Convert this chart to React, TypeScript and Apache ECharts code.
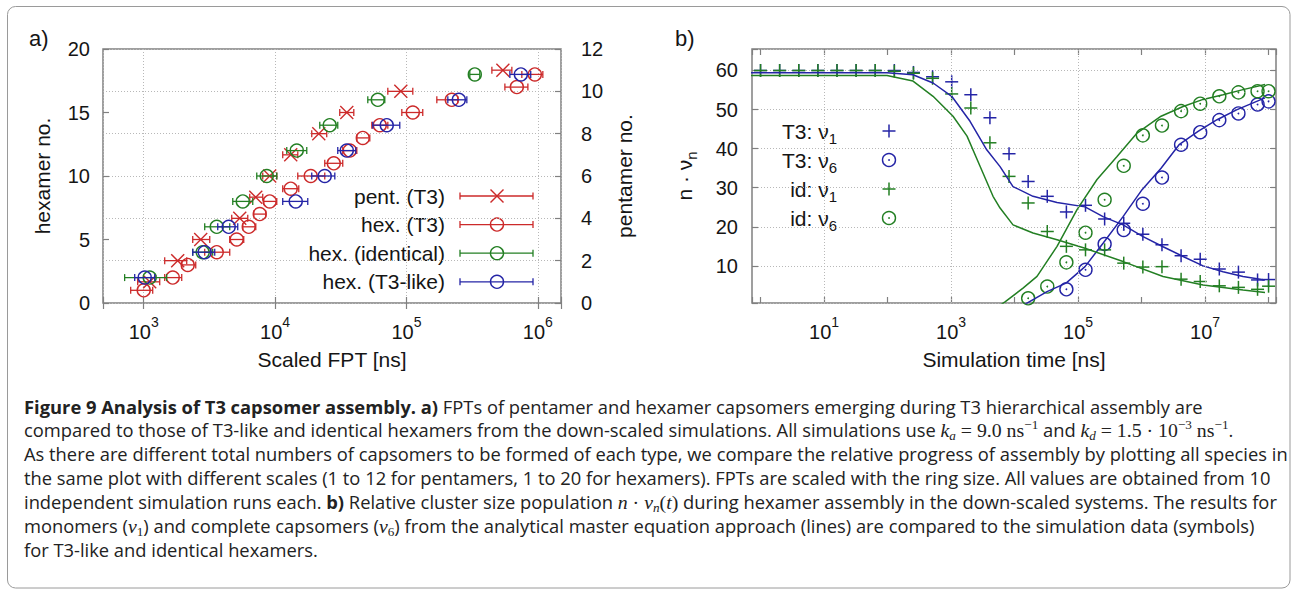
import React, { useEffect, useRef } from 'react';
import * as echarts from 'echarts';

const W = 1292;
const H = 589;

const RED = '#cc2a2a';
const GREEN = '#237f23';
const BLUE = '#2424a6';
const FRAME = '#808080';
const GRIDC = '#b8b8b8';
const INK = '#151515';
const FONT = '"Liberation Sans", Arial, Helvetica, sans-serif';
const CAPFONT = '"Open Sans", Lato, sans-serif';
const MATHFONT = '"Liberation Serif", "DejaVu Serif", serif';

// ---------- Panel a) data : FPT [ns] (centre, low, high) ----------
const pentNo = [1, 2, 3, 4, 5, 6, 7, 8, 9, 10, 11];
const pentFpt = [1111, 1815, 2716, 5383, 7129, 9102, 13152, 21505, 35130, 90570, 541500];
const pentLo = [900, 1445, 2361, 4677, 6412, 8054, 11430, 19010, 31050, 72100, 446700];
const pentHi = [1324, 2125, 3181, 6194, 8054, 10297, 14880, 24720, 39720, 111700, 633900];

const hexT3No = [1, 2, 3, 4, 5, 6, 7, 8, 9, 10, 11, 12, 13, 14, 15, 16, 17, 18];
const hexT3Fpt = [1000, 1663, 2163, 3597, 5105, 6302, 7640, 9102, 13152, 18690, 27970, 37040, 46500, 62660, 111750, 221300, 691800, 948500];
const hexT3Lo = [796, 1445, 1947, 2913, 4516, 5675, 6880, 8199, 11430, 14880, 23880, 32730, 41880, 54450, 92150, 170200, 561000, 755000];
const hexT3Hi = [1171, 1947, 2489, 4516, 5773, 7129, 8489, 10297, 15140, 23880, 32730, 41880, 52590, 72100, 133000, 246000, 839500, 1091000];

const hexIdNo = [2, 4, 6, 8, 10, 12, 14, 16, 18];
const hexIdFpt = [1111, 2812, 3597, 5675, 8644, 14620, 26060, 60500, 331100];
const hexIdLo = [716, 2361, 2913, 4762, 7253, 12270, 21880, 50770, 303400];
const hexIdHi = [1496, 3350, 4516, 6761, 10297, 17420, 29990, 68390, 361400];

const hexLikeNo = [2, 4, 6, 8, 10, 12, 14, 16, 18];
const hexLikeFpt = [1018, 2913, 4436, 14360, 23880, 35130, 70790, 250300, 742500];
const hexLikeLo = [854, 2361, 3660, 11430, 19010, 29990, 55410, 206400, 612300];
const hexLikeHi = [1213, 3472, 5197, 17730, 28480, 41110, 88920, 288000, 882400];

const xExpA = [3, 4, 5, 6];

// ---------- Panel b) data ----------
const timeB = [1, 2, 4, 8, 16, 32, 64, 128, 256, 512, 1024, 2048, 4096, 8192, 16384, 32768, 65536, 131072, 262144, 524288, 1048576, 2097152, 4194304, 8388608, 16777216, 33554432, 67108864, 100000000];
const t3Nu1Sim = [60, 60, 60, 60, 60, 60, 60, 60, 59.5, 58.4, 57.1, 53.8, 47.9, 38.7, 31.6, 27.8, 23.8, 25.5, 22.0, 20.9, 18.1, 15.4, 12.6, 11.7, 9.2, 8.4, 6.4, 6.5];
const idNu1Sim = [60, 60, 60, 60, 60, 60, 60, 59.8, 59.3, 58.0, 54.0, 50.4, 41.5, 32.9, 26.1, 18.8, 15.0, 14.1, 14.1, 10.7, 9.7, 9.8, 6.6, 6.0, 4.9, 4.5, 4.0, 4.8];
const t3Nu6Sim = [null, null, null, null, null, null, null, null, null, null, null, null, null, null, null, null, 4.0, 9.0, 15.6, 19.2, 25.9, 32.6, 41.0, 44.2, 47.3, 49.0, 51.3, 52.1];
const idNu6Sim = [null, null, null, null, null, null, null, null, null, null, null, null, null, null, 1.7, 4.7, 10.9, 18.5, 26.9, 35.6, 43.4, 45.9, 49.6, 51.5, 53.4, 54.4, 54.7, 54.7];

const curveT3Nu1T = [0.5, 98, 252, 521, 1026, 1991, 3648, 5916, 9460, 19540, 46690, 128800, 247700, 511500, 1056000, 2183000, 4510000, 9310000, 19200000, 39600000, 88000000];
const curveT3Nu1V = [59.4, 59.4, 58.9, 56.8, 53.4, 47.0, 39.7, 35.4, 30.3, 27.8, 26.2, 25.1, 22.6, 20.5, 17.5, 14.9, 12.4, 10.0, 8.5, 7.3, 6.4];
const curveIdNu1T = [0.5, 98, 252, 521, 1075, 1786, 2864, 4584, 5916, 9460, 19540, 46690, 128800, 511500, 2183000, 9310000, 39600000, 88000000];
const curveIdNu1V = [58.7, 58.7, 57.3, 53.4, 48.3, 43.2, 35.5, 27.8, 24.8, 20.5, 18.4, 16.7, 14.5, 11.1, 7.3, 5.1, 3.8, 3.2];
const curveT3Nu6T = [14000, 32480, 64720, 128800, 247700, 511500, 1019000, 2029000, 3900000, 7760000, 15460000, 31900000, 88000000];
const curveT3Nu6V = [0, 3.4, 5.6, 9.8, 15.8, 22.6, 29.5, 35.0, 41.0, 44.4, 47.4, 50.0, 53.0];
const curveIdNu6T = [6000, 7080, 13600, 22590, 46690, 96400, 199000, 411300, 849600, 2029000, 4510000, 9310000, 19200000, 39600000, 88000000];
const curveIdNu6V = [0, 0.8, 4.3, 7.3, 15.0, 24.4, 32.1, 38.0, 44.0, 48.3, 50.8, 52.6, 53.8, 55.1, 56.4];

const xExpB = [1, 3, 5, 7];
const gridDecadesB = [10, 1000, 100000, 10000000];

const legendA = [
  { name: 'pent. (T3)', color: RED, marker: 'x' },
  { name: 'hex. (T3)', color: RED, marker: 'o' },
  { name: 'hex. (identical)', color: GREEN, marker: 'o' },
  { name: 'hex. (T3-like)', color: BLUE, marker: 'o' },
];
const legendB = [
  { label: 'T3: ν', sub: '1', color: BLUE, marker: '+' },
  { label: 'T3: ν', sub: '6', color: BLUE, marker: 'od' },
  { label: 'id: ν', sub: '1', color: GREEN, marker: '+' },
  { label: 'id: ν', sub: '6', color: GREEN, marker: 'od' },
];

const captionFitLine = 'As there are different total numbers of capsomers to be formed of each type, we compare the relative progress of assembly by plotting all species in';
const captionLines = [
  '{b|Figure 9 Analysis of T3 capsomer assembly. a)}{r| FPTs of pentamer and hexamer capsomers emerging during T3 hierarchical assembly are}',
  '{r|compared to those of T3-like and identical hexamers from the down-scaled simulations. All simulations use }{m|k}{sb|a}{u| = 9.0 ns}{sp|−1}{r| and }{m|k}{sb|d}{u| = 1.5 · 10}{sp|−3}{u| ns}{sp|−1}{r|.}',
  '{r|' + captionFitLine + '}',
  '{r|the same plot with different scales (1 to 12 for pentamers, 1 to 20 for hexamers). FPTs are scaled with the ring size. All values are obtained from 10}',
  '{r|independent simulation runs each. }{b|b)}{r| Relative cluster size population }{m|n}{u| · }{m|ν}{sb|n}{u|(}{m|t}{u|)}{r| during hexamer assembly in the down-scaled systems. The results for}',
  '{r|monomers (}{m|ν}{su|1}{r|) and complete capsomers (}{m|ν}{su|6}{r|) from the analytical master equation approach (lines) are compared to the simulation data (symbols)}',
  '{r|for T3-like and identical hexamers.}',
];

// ---------- helpers ----------
const decadeFormatter = (allowed: number[]) => (v: number) => {
  const lg = Math.log10(v);
  const e = Math.round(lg);
  if (Math.abs(lg - e) > 1e-6 || allowed.indexOf(e) < 0) return '';
  return `{b|10}{s|${e}}`;
};
const supRich = {
  b: { fontSize: 20, fontFamily: FONT, color: INK, lineHeight: 34 },
  s: { fontSize: 14, fontFamily: FONT, color: INK, lineHeight: 14, verticalAlign: 'top' },
};

function errBarItem(color: string, marker: string) {
  return (_p: any, api: any) => {
    const y = api.value(1);
    const c = api.coord([api.value(0), y]);
    const lo = api.coord([api.value(2), y])[0];
    const hi = api.coord([api.value(3), y])[0];
    const st = { stroke: color, lineWidth: 1.3, fill: 'none' };
    const cap = 3.5;
    const r = 6.5;
    const ch: any[] = [
      { type: 'line', shape: { x1: lo, y1: c[1], x2: hi, y2: c[1] }, style: st },
      { type: 'line', shape: { x1: lo, y1: c[1] - cap, x2: lo, y2: c[1] + cap }, style: st },
      { type: 'line', shape: { x1: hi, y1: c[1] - cap, x2: hi, y2: c[1] + cap }, style: st },
    ];
    if (marker === 'o') {
      ch.push({ type: 'circle', shape: { cx: c[0], cy: c[1], r }, style: { stroke: color, lineWidth: 1.4, fill: 'none' } });
    } else {
      ch.push({ type: 'line', shape: { x1: c[0] - r, y1: c[1] - r, x2: c[0] + r, y2: c[1] + r }, style: { stroke: color, lineWidth: 1.4 } });
      ch.push({ type: 'line', shape: { x1: c[0] - r, y1: c[1] + r, x2: c[0] + r, y2: c[1] - r }, style: { stroke: color, lineWidth: 1.4 } });
    }
    return { type: 'group', children: ch };
  };
}

function markerShapes(cx: number, cy: number, color: string, marker: string): any[] {
  const r = 6.5;
  if (marker === '+') {
    return [
      { type: 'line', shape: { x1: cx - r, y1: cy, x2: cx + r, y2: cy }, style: { stroke: color, lineWidth: 1.5 } },
      { type: 'line', shape: { x1: cx, y1: cy - r, x2: cx, y2: cy + r }, style: { stroke: color, lineWidth: 1.5 } },
    ];
  }
  if (marker === 'od') {
    return [
      { type: 'circle', shape: { cx, cy, r }, style: { stroke: color, lineWidth: 1.4, fill: 'none' } },
      { type: 'circle', shape: { cx, cy, r: 0.9 }, style: { fill: color } },
    ];
  }
  if (marker === 'o') {
    return [{ type: 'circle', shape: { cx, cy, r }, style: { stroke: color, lineWidth: 1.4, fill: 'none' } }];
  }
  return [
    { type: 'line', shape: { x1: cx - r, y1: cy - r, x2: cx + r, y2: cy + r }, style: { stroke: color, lineWidth: 1.4 } },
    { type: 'line', shape: { x1: cx - r, y1: cy + r, x2: cx + r, y2: cy - r }, style: { stroke: color, lineWidth: 1.4 } },
  ];
}

function pointItem(color: string, marker: string) {
  return (_p: any, api: any) => {
    const c = api.coord([api.value(0), api.value(1)]);
    return { type: 'group', children: markerShapes(c[0], c[1], color, marker) };
  };
}

const zip4 = (a: number[], b: number[], c: number[], d: number[]) => a.map((v, i) => [v, b[i], c[i], d[i]]);
const zip2 = (a: number[], b: (number | null)[]) => a.map((v, i) => [v, b[i]]).filter((p) => p[1] != null);

const tickStyle = { show: true, inside: true, length: 6, lineStyle: { color: FRAME, width: 1.2 } };
const splitStyle = { show: true, lineStyle: { color: GRIDC, type: [1, 2], width: 1 } };
const nameStyle = { fontSize: 21, fontFamily: FONT, color: INK };

function captionSize(): number {
  try {
    const cv = document.createElement('canvas');
    const ctx = cv.getContext('2d');
    if (!ctx) return 16;
    ctx.font = `17px ${CAPFONT}`;
    const w = ctx.measureText(captionFitLine).width;
    if (!w) return 16;
    return (17 * 1264) / w;
  } catch (e) {
    return 16;
  }
}

function buildOption() {
  const graphics: any[] = [];
  graphics.push({
    type: 'rect', silent: true, z: -1,
    shape: { x: 7.5, y: 6.5, width: 1282.5, height: 581.5, r: 8 },
    style: { fill: 'none', stroke: '#9a9a9a', lineWidth: 1 },
  });
  graphics.push({ type: 'text', x: 29, y: 38, silent: true, style: { text: 'a)', fontSize: 22, fontFamily: FONT, fill: INK, verticalAlign: 'middle' } });
  graphics.push({ type: 'text', x: 675, y: 38, silent: true, style: { text: 'b)', fontSize: 22, fontFamily: FONT, fill: INK, verticalAlign: 'middle' } });

  // legend a
  legendA.forEach((it, i) => {
    const y = 196 + i * 28.6;
    graphics.push({ type: 'text', x: 445, y, silent: true, style: { text: it.name, fontSize: 21, fontFamily: FONT, fill: INK, align: 'right', verticalAlign: 'middle' } });
    const st = { stroke: it.color, lineWidth: 1.3 };
    graphics.push({ type: 'line', silent: true, shape: { x1: 460, y1: y, x2: 533, y2: y }, style: st });
    graphics.push({ type: 'line', silent: true, shape: { x1: 460, y1: y - 3.5, x2: 460, y2: y + 3.5 }, style: st });
    graphics.push({ type: 'line', silent: true, shape: { x1: 533, y1: y - 3.5, x2: 533, y2: y + 3.5 }, style: st });
    markerShapes(497, y, it.color, it.marker).forEach((s) => graphics.push({ ...s, silent: true }));
  });

  // legend b
  legendB.forEach((it, i) => {
    const y = 131 + i * 29;
    graphics.push({
      type: 'text', x: 837, y, silent: true,
      style: {
        text: `{a|${it.label}}{s|${it.sub}}`, align: 'right', verticalAlign: 'middle', fill: INK,
        rich: {
          a: { fontSize: 21, fontFamily: FONT, fill: INK, lineHeight: 30 },
          s: { fontSize: 15, fontFamily: FONT, fill: INK, lineHeight: 15, verticalAlign: 'bottom' },
        },
      },
    });
    markerShapes(889, y, it.color, it.marker).forEach((s) => graphics.push({ ...s, silent: true }));
  });

  // caption
  const fs = captionSize();
  const ms = fs * 1.08;
  const ss = fs * 0.72;
  const capRich = {
    r: { fontFamily: CAPFONT, fontSize: fs, lineHeight: 24, fill: '#222' },
    b: { fontFamily: CAPFONT, fontSize: fs, fontWeight: 'bold', lineHeight: 24, fill: '#222' },
    m: { fontFamily: MATHFONT, fontSize: ms, fontStyle: 'italic', lineHeight: 24, fill: '#222' },
    u: { fontFamily: MATHFONT, fontSize: ms, lineHeight: 24, fill: '#222' },
    sb: { fontFamily: MATHFONT, fontSize: ss, fontStyle: 'italic', lineHeight: 12, verticalAlign: 'bottom', fill: '#222' },
    su: { fontFamily: MATHFONT, fontSize: ss, lineHeight: 12, verticalAlign: 'bottom', fill: '#222' },
    sp: { fontFamily: MATHFONT, fontSize: ss, lineHeight: 12, verticalAlign: 'top', fill: '#222' },
  };
  captionLines.forEach((line, i) => {
    graphics.push({
      type: 'text', x: 24, y: 406 + i * 23.9, silent: true,
      style: { text: line, rich: capRich, verticalAlign: 'middle', align: 'left', fill: '#222' },
    });
  });

  const logA = { min: 490, max: 1500000 };
  const logB = { min: 0.734, max: 131000000 };

  return {
    animation: false,
    backgroundColor: '#ffffff',
    grid: [
      { left: 103, top: 49, width: 458, height: 254, show: true, borderColor: FRAME, borderWidth: 1.5, backgroundColor: 'transparent' },
      { left: 752, top: 49, width: 524, height: 254, show: true, borderColor: FRAME, borderWidth: 1.5, backgroundColor: 'transparent' },
    ],
    xAxis: [
      {
        type: 'log', logBase: 10, gridIndex: 0, position: 'bottom', ...logA,
        axisLine: { show: false }, axisTick: tickStyle, splitLine: splitStyle,
        axisLabel: { formatter: decadeFormatter(xExpA), rich: supRich, margin: 12 },
        name: 'Scaled FPT [ns]', nameLocation: 'middle', nameGap: 46, nameTextStyle: nameStyle, nameMoveOverlap: false,
      },
      {
        type: 'log', logBase: 10, gridIndex: 0, position: 'top', ...logA,
        axisLine: { show: false }, axisTick: tickStyle, splitLine: { show: false }, axisLabel: { show: false },
      },
      {
        type: 'log', logBase: 10, gridIndex: 1, position: 'bottom', ...logB,
        axisLine: { show: false }, axisTick: tickStyle, splitLine: { show: false },
        axisLabel: { formatter: decadeFormatter(xExpB), rich: supRich, margin: 12 },
        name: 'Simulation time [ns]', nameLocation: 'middle', nameGap: 46, nameTextStyle: nameStyle, nameMoveOverlap: false,
      },
      {
        type: 'log', logBase: 10, gridIndex: 1, position: 'top', ...logB,
        axisLine: { show: false }, axisTick: tickStyle, splitLine: { show: false }, axisLabel: { show: false },
      },
    ],
    yAxis: [
      {
        type: 'value', gridIndex: 0, position: 'left', min: 0, max: 20, interval: 5,
        axisLine: { show: false }, axisTick: tickStyle, splitLine: { show: false },
        axisLabel: { fontSize: 20, fontFamily: FONT, color: INK, margin: 13 },
        name: 'hexamer no.', nameLocation: 'middle', nameGap: 50, nameRotate: 90, nameTextStyle: nameStyle, nameMoveOverlap: false,
      },
      {
        type: 'value', gridIndex: 0, position: 'right', min: 0, max: 12, interval: 2,
        axisLine: { show: false }, axisTick: tickStyle, splitLine: splitStyle,
        axisLabel: { fontSize: 20, fontFamily: FONT, color: INK, margin: 20 },
        name: 'pentamer no.', nameLocation: 'middle', nameGap: 53, nameRotate: 90, nameTextStyle: nameStyle, nameMoveOverlap: false,
      },
      {
        type: 'value', gridIndex: 1, position: 'left', min: 0.5, max: 65.5, minInterval: 10, maxInterval: 10,
        axisLine: { show: false }, axisTick: tickStyle, splitLine: splitStyle,
        axisLabel: { fontSize: 20, fontFamily: FONT, color: INK, margin: 14, formatter: (v: number) => (Math.abs(v % 10) < 1e-9 ? String(v) : '') },
        name: '{a|n · ν}{s|n}', nameLocation: 'middle', nameGap: 53, nameRotate: 90, nameMoveOverlap: false,
        nameTextStyle: {
          ...nameStyle,
          rich: {
            a: { fontSize: 21, fontFamily: FONT, color: INK, lineHeight: 30 },
            s: { fontSize: 15, fontFamily: FONT, color: INK, lineHeight: 15, verticalAlign: 'bottom' },
          },
        },
      },
      {
        type: 'value', gridIndex: 1, position: 'right', min: 0.5, max: 65.5, minInterval: 10, maxInterval: 10,
        axisLine: { show: false }, axisTick: tickStyle, splitLine: { show: false }, axisLabel: { show: false },
      },
    ],
    graphic: { elements: graphics },
    series: [
      // panel a
      { type: 'custom', name: 'pent. (T3)', xAxisIndex: 0, yAxisIndex: 1, silent: true, encode: { x: 0, y: 1 }, renderItem: errBarItem(RED, 'x'), data: zip4(pentFpt, pentNo, pentLo, pentHi) },
      { type: 'custom', name: 'hex. (T3)', xAxisIndex: 0, yAxisIndex: 0, silent: true, encode: { x: 0, y: 1 }, renderItem: errBarItem(RED, 'o'), data: zip4(hexT3Fpt, hexT3No, hexT3Lo, hexT3Hi) },
      { type: 'custom', name: 'hex. (identical)', xAxisIndex: 0, yAxisIndex: 0, silent: true, encode: { x: 0, y: 1 }, renderItem: errBarItem(GREEN, 'o'), data: zip4(hexIdFpt, hexIdNo, hexIdLo, hexIdHi) },
      { type: 'custom', name: 'hex. (T3-like)', xAxisIndex: 0, yAxisIndex: 0, silent: true, encode: { x: 0, y: 1 }, renderItem: errBarItem(BLUE, 'o'), data: zip4(hexLikeFpt, hexLikeNo, hexLikeLo, hexLikeHi) },
      // panel b lines
      {
        type: 'line', name: 'T3 ν1 theory', xAxisIndex: 2, yAxisIndex: 2, silent: true, symbol: 'none', clip: true,
        lineStyle: { color: BLUE, width: 1.5 }, data: zip2(curveT3Nu1T, curveT3Nu1V),
        markLine: {
          silent: true, symbol: ['none', 'none'], label: { show: false },
          lineStyle: { color: GRIDC, type: [1, 2], width: 1 },
          data: gridDecadesB.map((v) => ({ xAxis: v })),
        },
      },
      { type: 'line', name: 'T3 ν6 theory', xAxisIndex: 2, yAxisIndex: 2, silent: true, symbol: 'none', clip: true, lineStyle: { color: BLUE, width: 1.5 }, data: zip2(curveT3Nu6T, curveT3Nu6V) },
      { type: 'line', name: 'id ν1 theory', xAxisIndex: 2, yAxisIndex: 2, silent: true, symbol: 'none', clip: true, lineStyle: { color: GREEN, width: 1.5 }, data: zip2(curveIdNu1T, curveIdNu1V) },
      { type: 'line', name: 'id ν6 theory', xAxisIndex: 2, yAxisIndex: 2, silent: true, symbol: 'none', clip: true, lineStyle: { color: GREEN, width: 1.5 }, data: zip2(curveIdNu6T, curveIdNu6V) },
      // panel b points
      { type: 'custom', name: 'T3: ν1', xAxisIndex: 2, yAxisIndex: 2, silent: true, encode: { x: 0, y: 1 }, renderItem: pointItem(BLUE, '+'), data: zip2(timeB, t3Nu1Sim) },
      { type: 'custom', name: 'T3: ν6', xAxisIndex: 2, yAxisIndex: 2, silent: true, encode: { x: 0, y: 1 }, renderItem: pointItem(BLUE, 'od'), data: zip2(timeB, t3Nu6Sim) },
      { type: 'custom', name: 'id: ν1', xAxisIndex: 2, yAxisIndex: 2, silent: true, encode: { x: 0, y: 1 }, renderItem: pointItem(GREEN, '+'), data: zip2(timeB, idNu1Sim) },
      { type: 'custom', name: 'id: ν6', xAxisIndex: 2, yAxisIndex: 2, silent: true, encode: { x: 0, y: 1 }, renderItem: pointItem(GREEN, 'od'), data: zip2(timeB, idNu6Sim) },
    ],
  };
}

export default function App() {
  const ref = useRef<HTMLDivElement>(null);
  useEffect(() => {
    if (!ref.current) return;
    const chart = echarts.init(ref.current, null, { renderer: 'svg', width: W, height: H });
    chart.setOption(buildOption() as any);
    return () => chart.dispose();
  }, []);
  return <div ref={ref} style={{ position: 'fixed', left: 0, top: 0, width: W, height: H, background: '#fff' }} />;
}
